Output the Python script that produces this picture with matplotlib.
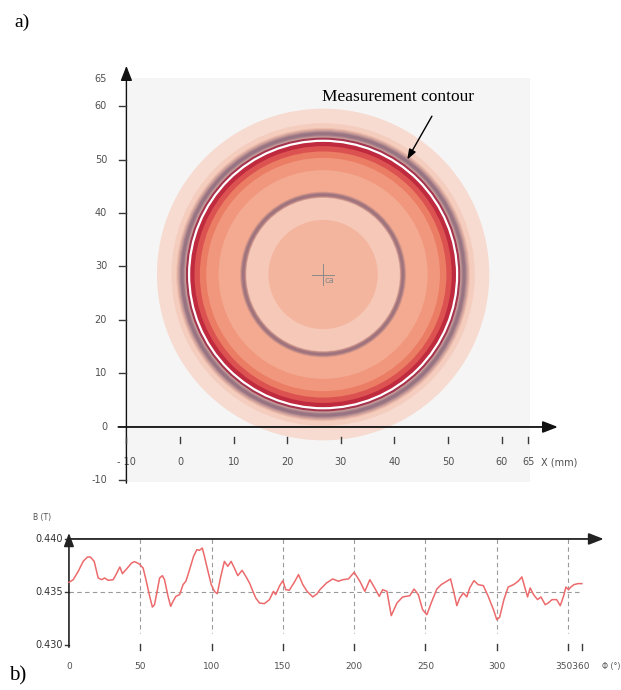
import matplotlib
matplotlib.use("Agg")
import matplotlib.pyplot as plt
from matplotlib.patches import Circle, Rectangle

# --- field map (a) ---
center = (26.7, 28.5)
band_radius = [31.0, 28.3, 27.4, 25.6, 24.9, 24.0, 23.0, 21.8, 19.5, 14.4, 10.2]
band_color = ["#f7dbd0", "#f4cdbf", "#efbcab", "#a9304a", "#c02a3f", "#dc5250",
              "#ec7d65", "#f1977d", "#f3aa90", "#f6c8b8", "#f4b59e"]
ring_radius = [26.3, 14.9]
ring_width = [7.0, 4.5]
contour_radius = 25.0
map_ticks_x = [-10, 0, 10, 20, 30, 40, 50, 60, 65]
map_ticks_y = [-10, 10, 20, 30, 40, 50, 60]
map_labels_y = [-10, 0, 10, 20, 30, 40, 50, 60, 65]

# --- B along the contour (b) ---
phi = [0, 3, 6.5, 10, 13, 15, 17.7, 20.5, 23, 25, 27.5, 31, 33, 35.7, 37.5, 40,
       44, 46, 49, 52, 54, 56.6, 58.5, 60, 62, 63.6, 65.5, 67, 69.5, 71.3, 73,
       75, 77.6, 80, 82, 84.6, 87.4, 89.7, 91.6, 93.5, 95, 97.5, 99.8, 102, 104,
       106.5, 109, 111.4, 113.7, 116, 118.4, 121.4, 124, 126.6, 129, 131, 133.6,
       137, 140.6, 143.4, 145, 147.5, 150, 152, 154.5, 158, 161, 164, 167, 171,
       174, 176, 180.6, 185, 189, 192, 196, 200, 204, 207.5, 211, 214, 217.6,
       220, 223, 226, 230, 234, 239, 242, 245, 248, 251, 254, 258, 261, 265,
       267.6, 270, 272, 274, 276.6, 279, 281, 284, 287, 290.6, 294, 297.7, 300,
       302, 305, 308, 311.7, 315, 317.6, 320, 321.6, 323.4, 325.8, 328.6, 331,
       334, 336, 338.8, 342, 344.5, 346.8, 348.5, 350.3, 352, 354, 357, 359.7]
b_field = [0.43591, 0.43616, 0.43695, 0.43789, 0.43830, 0.43830, 0.43789, 0.43632,
           0.43616, 0.43632, 0.43610, 0.43616, 0.43664, 0.43736, 0.43673, 0.43711,
           0.43774, 0.43786, 0.43767, 0.43726, 0.43616, 0.43459, 0.43358, 0.43380,
           0.43522, 0.43632, 0.43654, 0.43616, 0.43459, 0.43365, 0.43412, 0.43459,
           0.43475, 0.43569, 0.43601, 0.43711, 0.43837, 0.43899, 0.43893, 0.43915,
           0.43837, 0.43695, 0.43569, 0.43506, 0.43484, 0.43648, 0.43789, 0.43742,
           0.43789, 0.43726, 0.43654, 0.43704, 0.43648, 0.43585, 0.43506, 0.43443,
           0.43396, 0.43390, 0.43428, 0.43506, 0.43475, 0.43553, 0.43607, 0.43522,
           0.43516, 0.43591, 0.43664, 0.43569, 0.43506, 0.43453, 0.43484, 0.43522,
           0.43585, 0.43623, 0.43601, 0.43616, 0.43623, 0.43686, 0.43601, 0.43506,
           0.43616, 0.43547, 0.43459, 0.43522, 0.43506, 0.43277, 0.43396, 0.43453,
           0.43465, 0.43528, 0.43475, 0.43333, 0.43286, 0.43396, 0.43528, 0.43569,
           0.43601, 0.43623, 0.43491, 0.43371, 0.43443, 0.43491, 0.43453, 0.43538,
           0.43607, 0.43569, 0.43560, 0.43459, 0.43333, 0.43239, 0.43261, 0.43428,
           0.43547, 0.43569, 0.43601, 0.43642, 0.43528, 0.43453, 0.43538, 0.43475,
           0.43428, 0.43453, 0.43380, 0.43396, 0.43428, 0.43428, 0.43371, 0.43459,
           0.43547, 0.43522, 0.43547, 0.43569, 0.43579, 0.43579]
phi_ticks = [0, 50, 100, 150, 200, 250, 300, 350, 360]
b_ticks = [0.430, 0.435, 0.440]

AXIS = "#3a3a3a"
TXT = "#505050"
plt.rcParams["font.family"] = ["DejaVu Sans"]

fig = plt.figure(figsize=(6.21, 6.9), dpi=100)
W, H = 621, 690


def px_axes(left, top, right, bottom):
    return fig.add_axes([left / W, 1 - bottom / H, (right - left) / W, (bottom - top) / H])


# ---------------- map ----------------
ax1 = px_axes(60, 50, 600, 490)
ax1.set_xlim(-22.39, 78.36)
ax1.set_ylim(-11.78, 70.47)
ax1.axis("off")

ax1.add_patch(Rectangle((-10, -10.3), 75.3, 75.5, color="#f5f5f5", lw=0, zorder=0))

for r, c in zip(band_radius, band_color):
    ax1.add_patch(Circle(center, r, color=c, lw=0, zorder=1))
    if r == band_radius[3]:
        # soft purple ring, stacked strokes for the blur
        for k, a in zip([1.0, 0.75, 0.5, 0.3], [0.18, 0.25, 0.33, 0.45]):
            ax1.add_patch(Circle(center, ring_radius[0], fill=False, ec="#806078",
                                 lw=ring_width[0] * k, alpha=a, zorder=2))
    if r == band_radius[9]:
        for k, a in zip([1.0, 0.7, 0.4], [0.25, 0.33, 0.45]):
            ax1.add_patch(Circle(center, ring_radius[1], fill=False, ec="#806078",
                                 lw=ring_width[1] * k, alpha=a, zorder=2))

ax1.add_patch(Circle(center, contour_radius, fill=False, ec="white", lw=1.6, zorder=3))

# centre mark
ax1.plot([center[0] - 2, center[0] + 2], [center[1], center[1]], color="#8a8a8a", lw=0.7, zorder=4)
ax1.plot([center[0], center[0]], [center[1] - 2, center[1] + 2], color="#8a8a8a", lw=0.7, zorder=4)
ax1.text(center[0] + 0.3, center[1] - 0.3, "ca", fontsize=6, color="#8a8a8a", va="top", zorder=4)

# axes with arrows
ax1.annotate("", xy=(70.5, 0), xytext=(-11.5, 0),
             arrowprops=dict(arrowstyle="-|>,head_length=0.9,head_width=0.35", color="#111",
                             lw=1.3, shrinkA=0, shrinkB=0), zorder=5)
ax1.annotate("", xy=(-10, 67.5), xytext=(-10, -10.5),
             arrowprops=dict(arrowstyle="-|>,head_length=0.9,head_width=0.35", color="#111",
                             lw=1.0, shrinkA=0, shrinkB=0), zorder=5)

for x in map_ticks_x:
    ax1.plot([x, x], [-1.9, -3.0], color=AXIS, lw=1.0, zorder=5)
    ax1.text(x, -6.6, "- 10" if x < 0 else str(x), fontsize=7, color=TXT,
             ha="center", va="center")
ax1.text(67.3, -6.6, "X (mm)", fontsize=7, color=TXT, ha="left", va="center")
for y in map_ticks_y:
    ax1.plot([-11.3, -10], [y, y], color=AXIS, lw=1.0, zorder=5)
for y in map_labels_y:
    ax1.text(-13.6, y, str(y), fontsize=7, color=TXT, ha="right", va="center")

ax1.text(40.7, 61.7, "Measurement contour", family="Liberation Serif", fontsize=12.5,
         ha="center", va="center")
ax1.annotate("", xy=(42.4, 50.0), xytext=(47.0, 58.1),
             arrowprops=dict(arrowstyle="-|>,head_length=0.6,head_width=0.22", color="black",
                             lw=1.0, shrinkA=0, shrinkB=0))

# ---------------- profile ----------------
ax2 = px_axes(40, 515, 610, 680)
ax2.set_xlim(-20.3, 379.4)
ax2.set_ylim(0.42670, 0.44226)
ax2.axis("off")

for p in phi_ticks[1:-1]:
    ax2.plot([p, p], [0.440, 0.4311], color="#9a9a9a", lw=0.8, ls=(0, (4, 3)), zorder=1)
ax2.plot([0, 360], [0.435, 0.435], color="#9a9a9a", lw=0.8, ls=(0, (4, 3)), zorder=1)
for p in phi_ticks[1:]:
    ax2.plot([p, p], [0.43005, 0.42955], color=AXIS, lw=1.0)
for p in phi_ticks[:-2]:
    ax2.text(p, 0.42802, str(p), fontsize=6.5, color=TXT, ha="center", va="center")
# the last two ticks sit close together and their labels run into each other
ax2.text(phi_ticks[-2] + 3, 0.42802, f"{phi_ticks[-2]}{phi_ticks[-1]}", fontsize=6.5,
         color=TXT, ha="center", va="center")
ax2.text(373.5, 0.42802, "Φ (°)", fontsize=5.6, color=TXT, ha="left", va="center")

ax2.annotate("", xy=(375, 0.440), xytext=(0, 0.440),
             arrowprops=dict(arrowstyle="-|>,head_length=0.9,head_width=0.35", color="#222",
                             lw=1.3, shrinkA=0, shrinkB=0))
ax2.annotate("", xy=(0, 0.44057), xytext=(0, 0.4298),
             arrowprops=dict(arrowstyle="-|>,head_length=0.8,head_width=0.3", color="#222",
                             lw=1.2, shrinkA=0, shrinkB=0))
for b in b_ticks:
    ax2.plot([-2.8, 0], [b, b], color=AXIS, lw=1.0)
    ax2.text(-4.3, b, f"{b:.3f}", fontsize=7, color="#333", ha="right", va="center")
ax2.text(-18.9, 0.44198, "B (T)", fontsize=5.5, color=TXT, ha="center", va="center")

ax2.plot(phi, b_field, color="#ec6a6c", lw=1.1, zorder=3)

fig.text(22 / W, 1 - 22 / H, "a)", family="Liberation Serif", fontsize=14, ha="center", va="center")
fig.text(18 / W, 1 - 676 / H, "b)", family="Liberation Serif", fontsize=15, ha="center", va="center")

fig.savefig("out.png", dpi=100, facecolor="white")
